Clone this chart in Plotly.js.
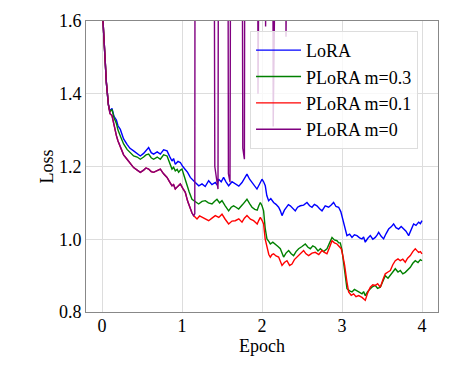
<!DOCTYPE html>
<html>
<head>
<meta charset="utf-8">
<script src="https://cdn.plot.ly/plotly-3.0.1.min.js"></script>
<style>html,body{margin:0;padding:0;background:#fff;}#chart{width:462px;height:365px;}</style>
</head>
<body>
<div id="chart"></div>
<script>
const seriesNames = ["LoRA", "PLoRA m=0.3", "PLoRA m=0.1", "PLoRA m=0"];
const xTickVals = [0, 1, 2, 3, 4];
const yTickVals = [0.8, 1.0, 1.2, 1.4, 1.6];

const loraX = [0,0.03,0.055,0.08,0.1,0.125,0.15,0.18,0.2,0.229,0.27,0.313,0.35,0.395,0.44,0.479,0.52,0.55,0.583,0.615,0.645,0.69,0.729,0.77,0.813,0.845,0.875,0.895,0.916,0.95,0.979,1.01,1.041,1.07,1.104,1.135,1.166,1.21,1.25,1.29,1.333,1.375,1.416,1.44,1.458,1.49,1.52,1.55,1.583,1.625,1.666,1.71,1.75,1.78,1.812,1.845,1.875,1.905,1.937,1.97,2.0,2.02,2.041,2.06,2.083,2.11,2.145,2.175,2.208,2.23,2.25,2.28,2.312,2.33,2.354,2.385,2.416,2.445,2.479,2.52,2.562,2.595,2.625,2.655,2.687,2.72,2.75,2.79,2.833,2.865,2.895,2.925,2.958,2.985,3.02,3.04,3.062,3.095,3.125,3.155,3.187,3.22,3.25,3.27,3.291,3.32,3.354,3.385,3.416,3.44,3.458,3.49,3.52,3.55,3.583,3.615,3.645,3.675,3.708,3.74,3.77,3.8,3.833,3.865,3.895,3.925,3.958,3.98,4.0];
const loraY = [1.65,1.53,1.43,1.37,1.352,1.36,1.338,1.328,1.312,1.302,1.276,1.261,1.25,1.243,1.236,1.229,1.236,1.244,1.252,1.238,1.234,1.24,1.234,1.246,1.243,1.228,1.215,1.222,1.206,1.214,1.211,1.2,1.193,1.184,1.17,1.162,1.156,1.147,1.152,1.145,1.161,1.15,1.156,1.149,1.165,1.158,1.17,1.158,1.147,1.158,1.152,1.146,1.156,1.168,1.179,1.165,1.156,1.148,1.138,1.152,1.165,1.158,1.147,1.12,1.106,1.112,1.101,1.096,1.088,1.078,1.065,1.08,1.088,1.095,1.092,1.084,1.078,1.088,1.092,1.094,1.101,1.092,1.088,1.096,1.092,1.084,1.078,1.092,1.088,1.094,1.101,1.09,1.088,1.076,1.047,1.025,1.01,1.014,1.005,1.012,1.01,1.004,1.001,1.006,0.992,1.002,1.01,1.0,1.005,1.012,1.019,1.008,1.001,1.015,1.028,1.034,1.042,1.032,1.028,1.035,1.028,1.022,1.01,1.026,1.042,1.038,1.047,1.043,1.051];

const m03X = [0,0.03,0.055,0.08,0.1,0.125,0.15,0.18,0.2,0.229,0.27,0.313,0.35,0.395,0.44,0.479,0.52,0.55,0.583,0.615,0.645,0.69,0.729,0.77,0.813,0.845,0.875,0.895,0.916,0.94,0.958,0.98,1.0,1.03,1.062,1.09,1.125,1.165,1.208,1.25,1.291,1.33,1.375,1.405,1.437,1.47,1.5,1.54,1.583,1.615,1.645,1.675,1.708,1.76,1.812,1.845,1.875,1.91,1.94,1.96,1.979,2.0,2.02,2.04,2.062,2.085,2.104,2.135,2.166,2.2,2.229,2.25,2.27,2.3,2.333,2.365,2.395,2.425,2.458,2.5,2.541,2.575,2.604,2.635,2.666,2.7,2.729,2.77,2.812,2.845,2.875,2.905,2.937,2.96,2.979,3.0,3.02,3.04,3.062,3.095,3.125,3.155,3.187,3.22,3.25,3.27,3.291,3.32,3.354,3.385,3.416,3.445,3.479,3.51,3.541,3.575,3.604,3.635,3.666,3.7,3.729,3.76,3.791,3.82,3.854,3.885,3.916,3.95,3.98,4.0];
const m03Y = [1.65,1.53,1.43,1.37,1.35,1.357,1.334,1.318,1.3,1.284,1.262,1.247,1.238,1.229,1.226,1.22,1.226,1.232,1.234,1.224,1.22,1.226,1.22,1.232,1.229,1.208,1.193,1.198,1.188,1.192,1.184,1.19,1.193,1.172,1.147,1.13,1.11,1.104,1.097,1.104,1.106,1.1,1.097,1.104,1.11,1.1,1.106,1.092,1.078,1.088,1.092,1.088,1.083,1.096,1.11,1.098,1.088,1.082,1.08,1.092,1.101,1.092,1.078,1.03,1.001,0.994,0.987,0.992,0.987,0.98,0.974,0.962,0.951,0.962,0.969,0.96,0.955,0.966,0.974,0.98,0.987,0.978,0.974,0.982,0.978,0.968,0.974,0.966,0.974,0.99,1.005,0.998,0.996,0.99,0.99,0.97,0.937,0.9,0.864,0.858,0.855,0.862,0.859,0.854,0.85,0.856,0.845,0.856,0.864,0.87,0.873,0.865,0.868,0.884,0.9,0.893,0.9,0.91,0.919,0.91,0.914,0.905,0.909,0.916,0.923,0.934,0.941,0.936,0.944,0.941];

const m01X = [0,0.03,0.055,0.08,0.1,0.125,0.15,0.18,0.2,0.229,0.27,0.313,0.35,0.395,0.44,0.479,0.52,0.55,0.583,0.615,0.645,0.69,0.729,0.77,0.813,0.845,0.875,0.895,0.916,0.95,0.979,1.01,1.041,1.07,1.104,1.125,1.145,1.1875,1.22,1.25,1.29,1.333,1.375,1.416,1.46,1.5,1.54,1.583,1.625,1.666,1.71,1.75,1.78,1.812,1.855,1.895,1.92,1.94,1.96,1.979,2.0,2.02,2.04,2.062,2.085,2.104,2.125,2.145,2.175,2.208,2.23,2.25,2.28,2.312,2.345,2.375,2.405,2.437,2.48,2.52,2.55,2.583,2.625,2.666,2.71,2.75,2.78,2.812,2.845,2.875,2.905,2.937,2.965,2.99,3.01,3.033,3.06,3.083,3.115,3.145,3.175,3.208,3.25,3.291,3.32,3.354,3.385,3.416,3.445,3.479,3.51,3.541,3.575,3.604,3.635,3.666,3.7,3.729,3.76,3.791,3.82,3.854,3.885,3.916,3.94,3.958,3.98,4.0];
const m01Y = [1.65,1.53,1.43,1.37,1.345,1.34,1.31,1.285,1.27,1.252,1.232,1.22,1.208,1.197,1.19,1.184,1.19,1.196,1.193,1.186,1.184,1.19,1.193,1.18,1.17,1.158,1.147,1.15,1.138,1.146,1.152,1.14,1.129,1.105,1.083,1.072,1.065,1.056,1.064,1.06,1.055,1.051,1.058,1.065,1.06,1.069,1.055,1.042,1.05,1.051,1.056,1.047,1.058,1.065,1.055,1.051,1.046,1.042,1.052,1.06,1.052,1.042,1.0,0.974,0.958,0.951,0.958,0.96,0.954,0.951,0.938,0.928,0.936,0.941,0.928,0.932,0.944,0.951,0.962,0.969,0.96,0.955,0.962,0.964,0.958,0.969,0.964,0.96,0.978,0.996,0.99,0.987,0.98,0.974,0.955,0.928,0.885,0.855,0.846,0.85,0.842,0.845,0.84,0.832,0.852,0.868,0.875,0.873,0.878,0.868,0.888,0.905,0.91,0.914,0.93,0.941,0.946,0.941,0.945,0.937,0.948,0.955,0.966,0.974,0.968,0.964,0.966,0.96];

// m=0 follows m=0.1 up to x=1.145, then diverges (values far above the axis, clipped)
const m0SplitX = 1.145;
const m0TailX = [1.16,1.17,1.38,1.41,1.45,1.47,1.56,1.58,1.60,1.63,1.73,1.76,1.78,1.80,1.93,1.95,1.97,2.03,2.045,2.06,2.12,2.14,2.16,2.28,2.3,2.32,2.4];
const m0TailY = [1.07,4,4,1.2,1.138,4,4,1.18,1.157,4,4,1.25,1.22,4,4,1.40,4,4,1.585,4,4,1.31,4,4,1.557,4,4];

const m0X = m01X.filter(x => x <= m0SplitX).concat(m0TailX);
const m0Y = m01Y.slice(0, m01X.filter(x => x <= m0SplitX).length).concat(m0TailY);

const colors = ["#0000ff", "#008000", "#ff0000", "#800080"];
const xs = [loraX, m03X, m01X, m0X];
const ys = [loraY, m03Y, m01Y, m0Y];

const fam = "'Liberation Serif', 'Times New Roman', serif";
const font = {family: fam, size: 18, color: "#000"};

const data = seriesNames.map((n, i) => ({
  type: "scatter", mode: "lines", name: n, x: xs[i], y: ys[i],
  line: {color: colors[i], width: 1.4}
}));

const layout = {
  width: 462, height: 365,
  margin: {l: 86, r: 24, t: 21, b: 53},
  paper_bgcolor: "#fff", plot_bgcolor: "#fff",
  font: font,
  showlegend: true,
  legend: {
    x: 0.466, y: 0.966, xanchor: "left", yanchor: "top",
    bgcolor: "rgba(255,255,255,0.8)", bordercolor: "#dddddd", borderwidth: 1,
    font: {family: fam, size: 18, color: "#000"},
    itemwidth: 45
  },
  xaxis: {
    range: [-0.2, 4.2], tickvals: xTickVals, ticktext: xTickVals.map(String),
    showgrid: true, gridcolor: "#dddddd", gridwidth: 1, zeroline: false,
    showline: true, mirror: true, linecolor: "#888888", linewidth: 1,
    ticks: "", tickfont: font, ticklabelstandoff: -3,
    title: {text: "Epoch", font: font, standoff: 0}
  },
  yaxis: {
    range: [0.8, 1.6], tickvals: yTickVals, ticktext: yTickVals.map(v => v.toFixed(1)),
    showgrid: true, gridcolor: "#dddddd", gridwidth: 1, zeroline: false,
    showline: true, mirror: true, linecolor: "#888888", linewidth: 1,
    ticks: "", tickfont: font,
    title: {text: "Loss", font: font, standoff: 0}
  }
};

Plotly.newPlot("chart", data, layout, {staticPlot: true, displayModeBar: false});
</script>
</body>
</html>
